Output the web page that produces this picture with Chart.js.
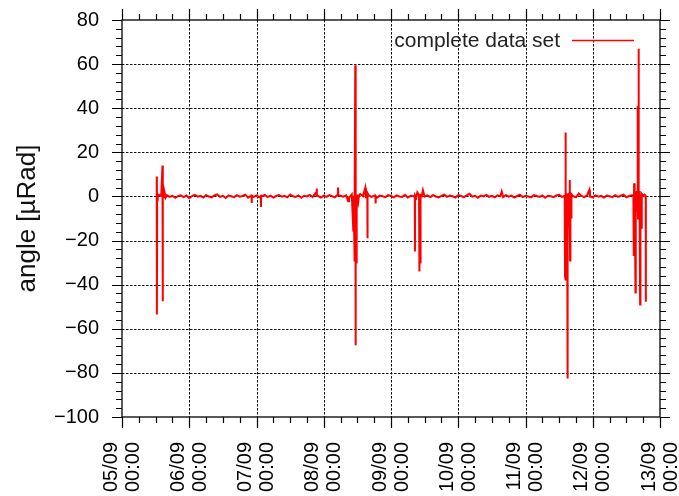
<!DOCTYPE html>
<html>
<head>
<meta charset="utf-8">
<script src="https://cdn.jsdelivr.net/npm/chart.js@4.4.1/dist/chart.umd.min.js"></script>
<style>
  html, body { margin: 0; padding: 0; background: #fff; }
</style>
</head>
<body>
<canvas id="chart" width="679" height="496"></canvas>
<script>
// x axis runs in hours from 05/09 00:00
const dayLabels = ["05/09", "06/09", "07/09", "08/09", "09/09", "10/09", "11/09", "12/09", "13/09"];
const timeLabel = "00:00";

// hourly readings of the quiet signal, starting at hour 13
const baseStart = 13;
const baseline = [
  0.8, 0.2, -0.4, 0.6, -0.2, 0.3, -0.6, 0.1, 0.5, -0.3, 0.4, -0.8, 0.2, 0.7, -0.1, 0.3, -0.5, 0.6, 0.0, -0.4,
  0.5, 0.9, -0.2, 0.3, -0.7, 0.4, 0.1, -0.3, 0.6, -0.1, 0.2, 0.8, -0.6, 0.3, -0.2, 0.5, -0.4, 0.1, 0.7, -0.3,
  0.4, -0.5, 0.2, 0.6, -0.1, 0.3, -0.4, 0.9, 0.1, -0.2, 0.5, -0.6, 0.3, 0.0, 0.7, -0.3, 1.4, 0.2, -0.5, 0.4,
  -0.2, 0.6, 0.1, -0.4, 0.8, 0.3, -0.1, 0.5, -0.6, 0.9, 0.4, -0.3, 1.1, 0.2, -0.8, 0.6, -0.2, 0.3, -0.5, 0.4,
  0.1, -0.3, 0.6, 0.2, -0.4, 0.5, 0.0, -0.2, 0.7, -0.5, 0.3, 0.1, -0.6, 0.4, 0.2, -0.1, 0.5, -0.3, 0.6, 0.0,
  -0.4, 0.3, 0.8, -0.2, 0.4, 0.1, -0.5, 0.6, 0.2, -0.3, 0.5, 1.2, -0.1, 0.3, -0.6, 0.4, 0.0, 0.7, -0.2, 0.3,
  -0.4, 0.5, 0.1, -0.3, 0.6, -0.1, 0.4, -0.5, 0.2, 0.8, -0.3, 0.3, 0.0, -0.4, 0.6, 0.2, -0.2, 0.5, -0.6, 0.3,
  0.1, -0.3, 0.4, 0.7, -0.2, 0.3, -0.5, 0.5, 0.1, -0.4, 1.3, 0.2, -0.3, 0.6, 0.0, -0.4, 0.5, -0.1, 0.3, -0.5,
  0.4, 0.1, -0.3, 0.6, -0.2, 0.3, 0.8, -0.4, 0.2, 0.5, 1.0, -0.2, 0.6, 0.3
];

// short excursions between the hourly samples
const spikeHours = [
  12.40, 12.45, 12.55, 12.75, 14.45, 14.52, 14.60, 15.20, 15.60,
  46.25, 46.30, 46.35, 49.55, 49.60, 49.65, 69.45, 69.50, 69.55, 77.05, 77.10, 77.15, 80.70,
  82.55, 82.65, 82.80, 82.90, 83.05, 83.15, 83.25, 83.30, 83.38, 83.50, 83.60, 83.75, 83.90, 84.30, 84.60,
  86.80, 87.20, 87.55, 87.60, 87.65, 90.45, 90.50, 90.55,
  104.50, 104.55, 104.60, 105.40, 106.00, 106.10, 106.20, 106.30, 106.45, 106.55, 107.40,
  135.50,
  158.10, 158.20, 158.30, 158.35, 158.45, 158.60, 158.70, 158.85, 159.00, 159.10, 159.25, 159.45, 159.60,
  159.80, 159.90, 160.05, 160.30, 160.40,
  166.80,
  182.50, 182.65, 182.75, 182.90, 183.25, 183.35, 183.60, 183.90, 184.10, 184.15, 184.30, 184.38, 184.50,
  184.70, 184.90, 185.05, 185.25, 185.45, 185.55, 186.50, 186.90, 186.95
];
const spikeValues = [
  9.0, -53.5, 1.2, 0.4, 14.0, -47.5, 1.6, 1.8, -0.5,
  0.2, -3.0, 0.3, 0.1, -4.8, 0.2, 0.3, 3.6, 0.4, 0.2, 4.0, 0.5, -2.2,
  -15.5, 0.3, -13.0, -3.0, -29.5, -1.0, 59.5, -67.5, -28.0, -0.5, -30.0, -6.0, 0.8, -2.5, 0.5,
  3.8, 2.4, 0.5, -19.0, 1.5, 0.1, -3.2, 0.2,
  0.3, -25.0, 0.4, 1.8, -28.5, -1.0, -34.0, -2.0, -30.0, 0.6, 2.8,
  2.2,
  -36.0, 1.0, -38.0, 29.0, -37.5, -12.0, -38.0, 1.5, -82.5, -20.0, 0.8, -14.0, 1.2,
  7.5, -29.0, -3.0, -9.5, 1.0,
  3.0,
  0.6, -27.0, 6.0, -2.0, -43.5, 2.5, -7.0, 1.5, 41.0, -10.0, 67.0, 41.0, -5.0,
  2.5, -49.0, 1.0, -6.0, -14.7, 1.2, 0.8, 0.2, -47.7
];

const points = [];
baseline.forEach((v, i) => points.push({ x: baseStart + i, y: v }));
spikeHours.forEach((h, i) => points.push({ x: h, y: spikeValues[i] }));
points.sort((a, b) => a.x - b.x);

const fontFamily = "'Liberation Sans', Arial, sans-serif";
const labelFont = { family: fontFamily, size: 20, lineHeight: 1.1 };

// gnuplot style frame: dotted grid, outward ticks on all four sides, key at top right
const framePlugin = {
  id: "frame",
  beforeDatasetsDraw(chart) {
    const { ctx, chartArea: a, scales: { x, y } } = chart;
    ctx.save();
    ctx.strokeStyle = "#111";
    ctx.lineWidth = 1;
    ctx.setLineDash([2.5, 1.5]);
    y.ticks.forEach((t) => {
      if (t.value <= y.min || t.value >= y.max) return;
      const py = Math.round(y.getPixelForValue(t.value)) + 0.5;
      ctx.beginPath();
      ctx.moveTo(a.left, py);
      ctx.lineTo(a.right, py);
      ctx.stroke();
    });
    x.ticks.forEach((t) => {
      if (t.value <= x.min || t.value >= x.max) return;
      const px = Math.round(x.getPixelForValue(t.value)) + 0.5;
      ctx.beginPath();
      ctx.moveTo(px, a.top);
      ctx.lineTo(px, a.bottom);
      ctx.stroke();
    });
    ctx.restore();
  },
  afterDatasetsDraw(chart) {
    const { ctx, chartArea: a, scales: { x, y } } = chart;
    ctx.save();
    ctx.strokeStyle = "#000";
    ctx.lineWidth = 1.3;
    ctx.strokeRect(a.left, a.top, a.right - a.left, a.bottom - a.top);

    ctx.lineWidth = 1.2;
    ctx.beginPath();
    for (let h = x.min; h <= x.max; h += 6) {
      const px = Math.round(x.getPixelForValue(h)) + 0.5;
      const len = h % 24 === 0 ? 11 : 6;
      ctx.moveTo(px, a.bottom);
      ctx.lineTo(px, a.bottom + len);
      ctx.moveTo(px, a.top);
      ctx.lineTo(px, a.top - len);
    }
    for (let v = y.min; v <= y.max; v += 4) {
      const py = Math.round(y.getPixelForValue(v)) + 0.5;
      const len = v % 20 === 0 ? 10 : 6;
      ctx.moveTo(a.left, py);
      ctx.lineTo(a.left - len, py);
      ctx.moveTo(a.right, py);
      ctx.lineTo(a.right + len, py);
    }
    ctx.stroke();

    // key
    ctx.fillStyle = "#222";
    ctx.font = "21px " + fontFamily;
    ctx.textAlign = "right";
    ctx.textBaseline = "middle";
    ctx.fillText("complete data set", 560, 41);
    ctx.strokeStyle = "#ff0000";
    ctx.lineWidth = 1.5;
    ctx.beginPath();
    ctx.moveTo(572, 40.5);
    ctx.lineTo(634, 40.5);
    ctx.stroke();
    ctx.restore();
  }
};

new Chart(document.getElementById("chart"), {
  type: "line",
  data: {
    datasets: [{
      label: "complete data set",
      data: points,
      borderColor: "#ff0000",
      borderWidth: 2,
      pointRadius: 0,
      tension: 0,
      fill: false
    }]
  },
  options: {
    responsive: false,
    animation: false,
    layout: { padding: { top: 20, right: 19, left: 0, bottom: 0 } },
    plugins: { legend: { display: false }, tooltip: { enabled: false } },
    scales: {
      x: {
        type: "linear",
        min: 0,
        max: 192,
        grid: { display: false, drawTicks: false },
        border: { display: false },
        ticks: {
          stepSize: 24,
          autoSkip: false,
          minRotation: 90,
          maxRotation: 90,
          padding: 25,
          labelOffset: -11,
          color: "#000",
          font: labelFont,
          callback: (v) => [dayLabels[Math.round(v / 24)], timeLabel]
        },
        afterFit: (s) => {
          s.height = 79;
          s.paddingLeft = 0;
          s.paddingRight = 0;
        }
      },
      y: {
        min: -100,
        max: 80,
        grid: { display: false, drawTicks: false },
        border: { display: false },
        ticks: {
          stepSize: 20,
          padding: 23,
          color: "#000",
          font: labelFont,
          callback: (v) => (v < 0 ? "\u2212" + Math.abs(v) : String(v))
        },
        title: {
          display: true,
          text: "angle [µRad]",
          color: "#111",
          font: { family: fontFamily, size: 26, lineHeight: 1.2 },
          padding: { top: 12, bottom: 0 }
        },
        afterFit: (s) => {
          s.width = 122;
          s.paddingTop = 0;
          s.paddingBottom = 0;
        }
      }
    }
  },
  plugins: [framePlugin]
});
</script>
</body>
</html>
